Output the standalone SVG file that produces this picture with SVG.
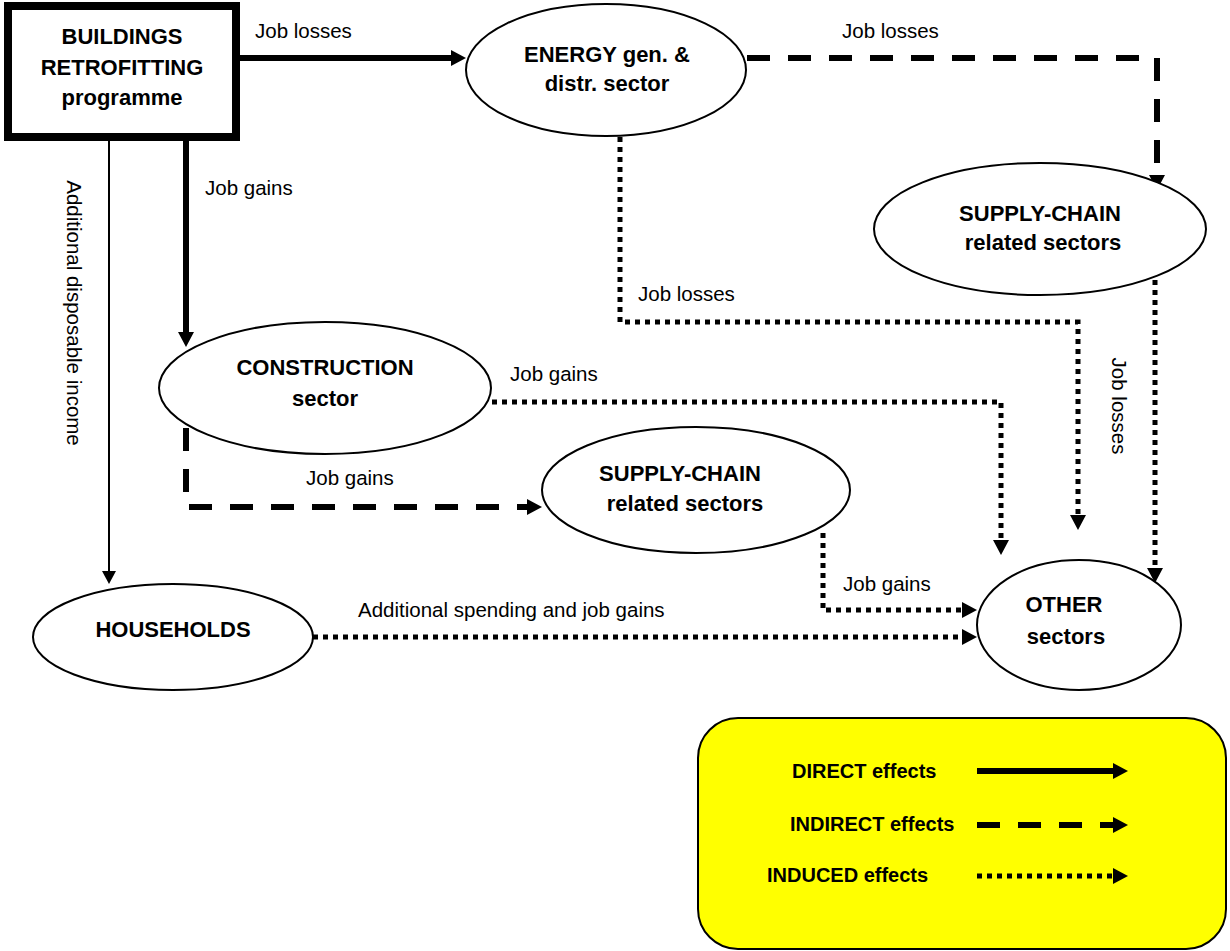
<svg xmlns="http://www.w3.org/2000/svg" width="1230" height="951" viewBox="0 0 1230 951">
<style>
.n{fill:#fff;stroke:#000;stroke-width:2}
.b{font-family:"Liberation Sans",Arial,sans-serif;font-weight:bold;font-size:22px;fill:#000;text-anchor:middle}
.t{font-family:"Liberation Sans",Arial,sans-serif;font-size:20.5px;fill:#000}
.lg{font-family:"Liberation Sans",Arial,sans-serif;font-weight:bold;font-size:20px;fill:#000}
.solid{fill:none;stroke:#000;stroke-width:6;marker-end:url(#ah)}
.dash{fill:none;stroke:#000;stroke-width:6;stroke-dasharray:23 18;marker-end:url(#ah)}
.dot{fill:none;stroke:#000;stroke-width:5;stroke-dasharray:5 5;marker-end:url(#ah)}
.thin{fill:none;stroke:#000;stroke-width:2;marker-end:url(#ahs)}
</style>
<defs>
<marker id="ah" markerUnits="userSpaceOnUse" markerWidth="15" markerHeight="16" refX="0" refY="8" orient="auto">
<path d="M0,0 L15,8 L0,16 z" fill="#000"/>
</marker>
<marker id="ahs" markerUnits="userSpaceOnUse" markerWidth="13" markerHeight="14" refX="0" refY="7" orient="auto">
<path d="M0,0 L13,7 L0,14 z" fill="#000"/>
</marker>
</defs>
<rect width="1230" height="951" fill="#fff"/>

<g id="connectors">
<path class="solid" d="M236,58 H451"/>
<path class="dash" d="M747,58 H1157 V175"/>
<path class="dot" d="M620,137 V322 H1078 V515"/>
<path class="dot" d="M1155,270 V568"/>
<path class="solid" d="M186,137 V332"/>
<path class="thin" d="M109,137 V571"/>
<path class="dot" d="M492,402 H1001 V540"/>
<path class="dash" d="M186,428 V507 H527"/>
<path class="dot" d="M823,533 V610 H962"/>
<path class="dot" d="M313,637 H962"/>
<text class="t" x="255" y="38">Job losses</text>
<text class="t" x="842" y="38">Job losses</text>
<text class="t" x="205" y="195">Job gains</text>
<text class="t" x="638" y="301">Job losses</text>
<text class="t" x="510" y="381">Job gains</text>
<text class="t" x="306" y="485">Job gains</text>
<text class="t" x="843" y="591">Job gains</text>
<text class="t" x="358" y="617">Additional spending and job gains</text>
<text class="t" text-anchor="middle" transform="translate(67,313) rotate(90)">Additional disposable income</text>
<text class="t" text-anchor="middle" transform="translate(1112,406) rotate(90)">Job losses</text>
</g>

<g id="buildings">
<rect x="8" y="6" width="228" height="131" fill="#fff" stroke="#000" stroke-width="8"/>
<text class="b" x="122" y="44">BUILDINGS</text>
<text class="b" x="122" y="75">RETROFITTING</text>
<text class="b" x="122" y="105">programme</text>
</g>

<g id="energy">
<ellipse class="n" cx="606" cy="70" rx="140" ry="66"/>
<text class="b" x="607" y="62">ENERGY gen. &amp;</text>
<text class="b" x="607" y="91">distr. sector</text>
</g>

<g id="supply-chain-1">
<ellipse class="n" cx="1040" cy="229" rx="166" ry="66"/>
<text class="b" x="1040" y="221">SUPPLY-CHAIN</text>
<text class="b" x="1043" y="250">related sectors</text>
</g>

<g id="construction">
<ellipse class="n" cx="325" cy="388" rx="166" ry="66"/>
<text class="b" x="325" y="375">CONSTRUCTION</text>
<text class="b" x="325" y="406">sector</text>
</g>

<g id="supply-chain-2">
<ellipse class="n" cx="696" cy="490" rx="154" ry="63"/>
<text class="b" x="680" y="481">SUPPLY-CHAIN</text>
<text class="b" x="685" y="511">related sectors</text>
</g>

<g id="households">
<ellipse class="n" cx="173" cy="637" rx="140" ry="53"/>
<text class="b" x="173" y="637">HOUSEHOLDS</text>
</g>

<g id="other">
<ellipse class="n" cx="1079" cy="625" rx="102" ry="65"/>
<text class="b" x="1064" y="612">OTHER</text>
<text class="b" x="1066" y="644">sectors</text>
</g>

<g id="legend">
<rect x="698" y="718" width="528" height="231" rx="40" ry="40" fill="#ffff00" stroke="#000" stroke-width="2"/>
<text class="lg" x="792" y="778">DIRECT effects</text>
<text class="lg" x="790" y="831">INDIRECT effects</text>
<text class="lg" x="767" y="882">INDUCED effects</text>
<path class="solid" d="M977,771 H1113"/>
<path class="dash" d="M977,825 H1113"/>
<path class="dot" d="M977,876 H1113"/>
</g>
</svg>
